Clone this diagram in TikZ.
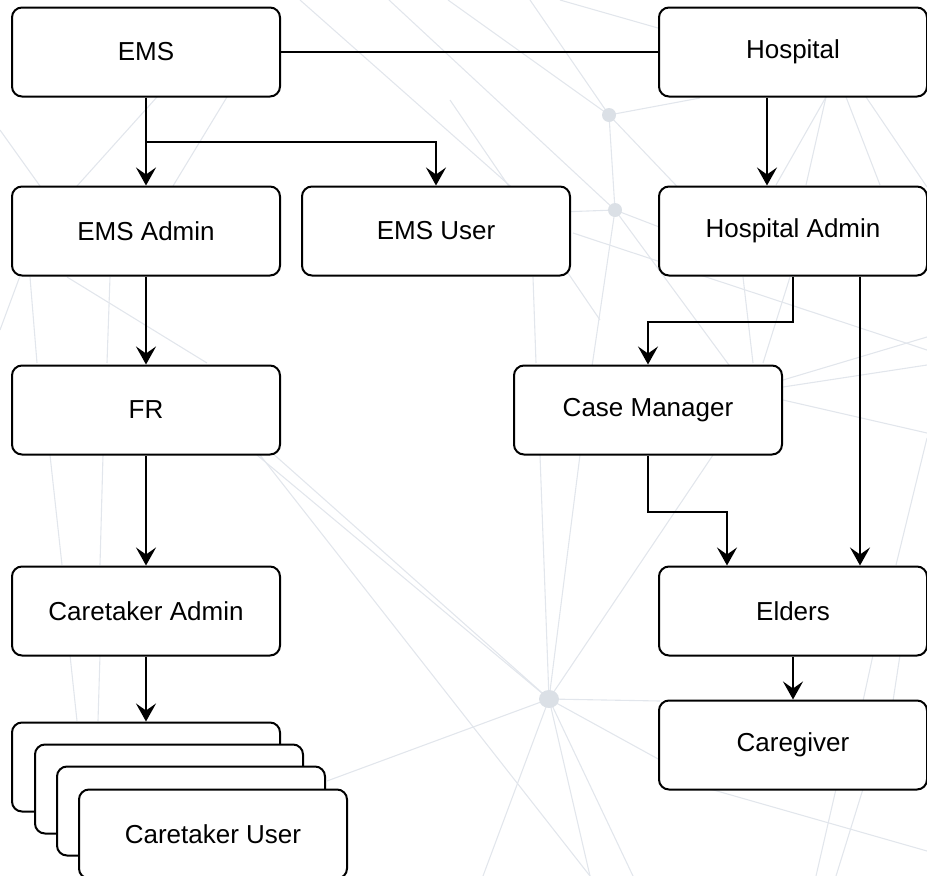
\documentclass[tikz,border=0pt]{standalone}
\usepackage{fontspec}
\setmainfont{Liberation Sans}
\usetikzlibrary{arrows.meta}
\definecolor{bgline}{RGB}{226,230,236}
\definecolor{bgdot}{RGB}{219,224,230}
\tikzset{
  box/.style={draw, line width=2pt, rounded corners=10pt, fill=white,
    minimum width=268pt, minimum height=89pt, inner sep=0pt,
    font=\fontsize{26}{30}\selectfont},
  arr/.style={line width=2pt, -{Stealth[length=18pt,width=20pt,inset=7pt]}},
  link/.style={line width=2pt},
  bg/.style={draw=bgline, line width=1.1pt}
}
\begin{document}
\begin{tikzpicture}[x=1pt,y=-1pt]
\useasboundingbox (0,0) rectangle (927,876);
% background network
\coordinate (dA) at (609,115);
\coordinate (dB) at (615,210);
\coordinate (dC) at (549,699);
\foreach \ax/\ay/\bx/\by in {530/0/609/115,448/0/609/115,609/115/700/98,609/115/615/210,609/115/690/200,
  615/210/560/212,615/210/680/235,615/210/590/380,615/210/740/380,389/0/615/210,
  826/97/776/185,826/97/806/185,846/97/880/185,866/97/927/187,
  743/277/753/363,790/277/763/363,533/277/536/363,573/233/927/350,
  783/380/927/337,783/387/927/365,783/400/927/433,
  540/455/549/699,580/455/549/699,713/455/549/699,257/455/549/699,270/451/549/699,
  327/781/549/699,549/699/660/701,549/699/660/760,549/699/590/876,549/699/633/876,549/699/483/876,
  260/455/590/876,50/455/62/565,103/455/100/565,70/655/77/721,100/655/98/721,
  927/438/896/565,873/655/863/701,900/655/893/701,836/789/816/876,
  863/789/836/876,710/789/927/851,
  157/97/77/186,227/97/173/186,30/277/37/363,110/277/107/363,67/277/207/363,
  300/0/560/230,0/130/40/186,0/330/20/276,560/0/700/40,450/100/600/320}
  {\draw[bg] (\ax,\ay) -- (\bx,\by);}
\fill[bgdot] (dA) ellipse (7 and 7);
\fill[bgdot] (dB) ellipse (7 and 7);
\fill[bgdot] (dC) ellipse (10 and 9);
% boxes
\node[box] (ems) at (146,52) {EMS};
\node[box] (hosp) at (793,52) {Hospital};
\node[box] (emsadmin) at (146,231) {EMS Admin};
\node[box] (emsuser) at (436,231) {EMS User};
\node[box] (hadmin) at (793,231) {Hospital Admin};
\node[box] (fr) at (146,410) {FR};
\node[box] (cm) at (648,410) {Case Manager};
\node[box] (ctadmin) at (146,611) {Caretaker Admin};
\node[box] (elders) at (793,611) {Elders};
\node[box] (cgiver) at (793,745) {Caregiver};
\node[box] (cu1) at (146,767) {};
\node[box] (cu2) at (169,789) {};
\node[box] (cu3) at (191,811) {};
\node[box] (cu4) at (213,834) {Caretaker User};
% connectors
\draw[link] (ems.east) -- (hosp.west);
\draw[arr] (ems.south) -- (emsadmin.north);
\draw[arr] (ems.south) -- ++(0,44) -| (emsuser.north);
\draw[arr] ([xshift=-26pt]hosp.south) -- ([xshift=-26pt]hadmin.north);
\draw[arr] (hadmin.south) -- ++(0,45) -| (cm.north);
\draw[arr] ([xshift=67pt]hadmin.south) -- ([xshift=67pt]elders.north);
\draw[arr] (cm.south) -- ++(0,56) -| ([xshift=-66pt]elders.north);
\draw[arr] (elders.south) -- (cgiver.north);
\draw[arr] (emsadmin.south) -- (fr.north);
\draw[arr] (fr.south) -- (ctadmin.north);
\draw[arr] (ctadmin.south) -- (cu1.north);
\end{tikzpicture}
\end{document}
